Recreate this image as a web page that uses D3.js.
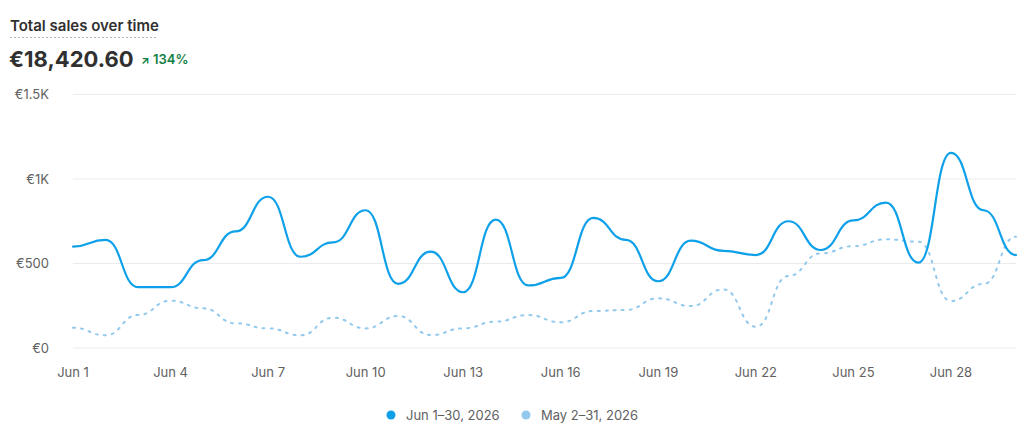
<!DOCTYPE html>
<html><head><meta charset="utf-8">
<script src="https://cdn.jsdelivr.net/npm/d3@7"></script>
<style>
body{margin:0;background:#fff;font-family:Inter,"Noto Sans",sans-serif;}
svg text{font-family:Inter,"Noto Sans",sans-serif;}
</style></head>
<body><svg id="c" width="1036" height="442"></svg>
<script>
const days = d3.range(1,31);
const currentSales = [600,640,360,360,520,690,895,540,625,815,380,570,330,760,370,415,770,640,395,635,575,550,750,580,755,860,505,1155,815,550];
const previousSales = [120,75,195,280,235,146,116,75,179,116,189,77,116,156,195,152,219,225,294,248,347,126,426,560,603,643,629,278,379,659];
const yTicks = [0,500,1000,1500];
const yTickLabels = ["€0","€500","€1K","€1.5K"];
const xTickDays = [1,4,7,10,13,16,19,22,25,28];
const seriesNames = ["Jun 1–30, 2026","May 2–31, 2026"];
const colors = ["#0ea1e9","#92c9ec"];

const svg = d3.select("#c");
const x = d3.scaleLinear().domain([1,30]).range([73,1016]);
const y = d3.scaleLinear().domain([0,1500]).range([348,94.5]);

// title
svg.append("text").attr("x",10).attr("y",31).attr("font-size",15).attr("font-weight",600).attr("fill","#303030").text("Total sales over time");
svg.append("line").attr("x1",10).attr("x2",158).attr("y1",37.5).attr("y2",37.5).attr("stroke","#b5b5b5").attr("stroke-width",1).attr("stroke-dasharray","2,2");
svg.append("text").attr("x",9).attr("y",67).attr("font-size",22).attr("font-weight",650).attr("fill","#303030").text("€18,420.60");
svg.append("text").attr("x",141).attr("y",64).attr("font-size",11).attr("font-weight",700).attr("fill","#108043").text("↗");
svg.append("text").attr("x",153).attr("y",64).attr("font-size",13).attr("font-weight",600).attr("fill","#108043").text("134%");

// grid
const g = svg.append("g");
g.selectAll("line.grid").data(yTicks).join("line")
  .attr("x1",73).attr("x2",1016).attr("y1",d=>y(d)).attr("y2",d=>y(d))
  .attr("stroke","#ebebeb").attr("stroke-width",1);
g.selectAll("text.yl").data(yTicks).join("text")
  .attr("x",49).attr("y",d=>y(d)+4.5).attr("text-anchor","end")
  .attr("font-size",13).attr("fill","#616161").text((d,i)=>yTickLabels[i]);
g.selectAll("text.xl").data(xTickDays).join("text")
  .attr("x",d=>x(d)).attr("y",377).attr("text-anchor","middle")
  .attr("font-size",13).attr("fill","#616161").text(d=>"Jun "+d);

const line = d3.line().x((d,i)=>x(days[i])).y(d=>y(d)).curve(d3.curveBumpX);
svg.append("path").attr("d",line(previousSales)).attr("fill","none").attr("stroke",colors[1])
  .attr("stroke-width",2).attr("stroke-dasharray","2,6").attr("stroke-linecap","round");
svg.append("path").attr("d",line(currentSales)).attr("fill","none").attr("stroke",colors[0])
  .attr("stroke-width",2.2).attr("stroke-linecap","round");

// legend
const legX = [391,526];
seriesNames.forEach((n,i)=>{
  svg.append("circle").attr("cx",legX[i]).attr("cy",415).attr("r",4.5).attr("fill",colors[i]);
  svg.append("text").attr("x",legX[i]+15).attr("y",420).attr("font-size",13).attr("fill","#616161").text(n);
});
</script></body></html>
